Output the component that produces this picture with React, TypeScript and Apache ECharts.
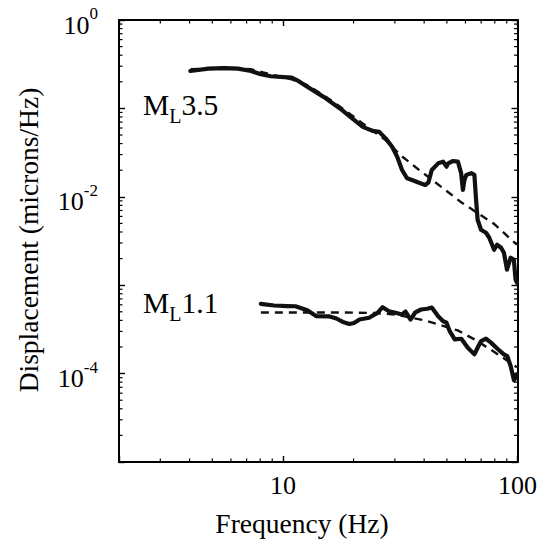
import React, { useEffect, useRef } from "react";
import * as echarts from "echarts";

// ---------- data ----------
const xMin = 2;
const xMax = 100;
const yMin = 1e-5;
const yMax = 1;
const xTickLabels = [10, 100];
const yLabelExponents = [0, -2, -4];
const xMinorTicks = [3, 4, 5, 6, 7, 8, 9, 20, 30, 40, 50, 60, 70, 80, 90];
const yMinorMantissas = [2, 3, 4, 5, 6, 7, 8, 9];
const yMinorDecades = [-5, -4, -3, -2, -1];

const ml35Freq = [4.03, 4.81, 5.65, 6.43, 7.31, 8.05, 8.87, 10.1, 10.9, 11.5, 12.6, 14.9, 17.5, 19.2, 21.9, 24.1, 25.7, 27.4, 29.2, 30.7, 32.2, 33.8, 35.5, 37.8, 40.4, 41.7, 43.1, 45.9, 48.2, 49.8, 50.6, 53.1, 55.7, 57.5, 58.5, 59.4, 60.5, 63.5, 65.5, 66.6, 67.6, 69.9, 73.4, 75.8, 79.5, 81.8, 85.1, 87.5, 90.2, 93.5, 96.5, 98.1, 99.4];
const ml35Amp = [0.265, 0.282, 0.286, 0.282, 0.265, 0.243, 0.231, 0.226, 0.223, 0.208, 0.178, 0.135, 0.0998, 0.0817, 0.0618, 0.0557, 0.0543, 0.0458, 0.0368, 0.0284, 0.0201, 0.0162, 0.0155, 0.0145, 0.0136, 0.0145, 0.0201, 0.0239, 0.025, 0.0219, 0.0239, 0.0254, 0.025, 0.0185, 0.012, 0.0155, 0.0177, 0.0185, 0.0177, 0.0092, 0.0055, 0.00424, 0.00392, 0.00344, 0.00252, 0.00287, 0.00265, 0.00233, 0.0015, 0.00205, 0.00194, 0.00116, 0.00107];

const ml35FitFreq = [4.04, 5.61, 7.29, 8.85, 10.9, 12.7, 14.9, 17.4, 21.8, 27.4, 31.7, 36.7, 46.7, 57.3, 65.5, 79.5, 99.4];
const ml35FitAmp = [0.277, 0.291, 0.277, 0.243, 0.213, 0.183, 0.141, 0.106, 0.0681, 0.0438, 0.0296, 0.0217, 0.0133, 0.00875, 0.00693, 0.00494, 0.00287];

const ml11Freq = [8.05, 9.16, 10.4, 11.3, 12.7, 13.9, 15.8, 16.9, 18.0, 19.2, 20.1, 21.2, 23.3, 25.3, 26.6, 28.3, 30.2, 32.2, 33.3, 35.0, 36.7, 38.8, 41.2, 43.1, 45.9, 48.2, 49.8, 51.4, 54.0, 57.6, 61.4, 65.5, 67.6, 69.9, 73.4, 77.1, 82.1, 87.5, 90.4, 93.5, 96.6, 98.2, 99.4];
const ml11Amp = [6.15e-4, 5.89e-4, 5.81e-4, 5.78e-4, 5.21e-4, 4.46e-4, 4.43e-4, 4.2e-4, 3.84e-4, 3.64e-4, 3.74e-4, 4.09e-4, 4.28e-4, 4.87e-4, 5.64e-4, 5.08e-4, 4.87e-4, 4.67e-4, 5.04e-4, 4.09e-4, 4.94e-4, 5.31e-4, 5.41e-4, 5.59e-4, 4.46e-4, 3.92e-4, 3.76e-4, 3.02e-4, 2.44e-4, 2.48e-4, 1.96e-4, 1.65e-4, 1.96e-4, 2.33e-4, 2.48e-4, 2.24e-4, 1.91e-4, 1.65e-4, 1.58e-4, 1.22e-4, 8.4e-5, 9.0e-5, 9.8e-5];

const ml11FitFreq = [8.05, 11.5, 18.6, 24.9, 30.2, 40.4, 55.6, 65.5, 76.5, 90.2, 99.4];
const ml11FitAmp = [4.91e-4, 4.91e-4, 4.91e-4, 4.84e-4, 4.65e-4, 3.99e-4, 3.08e-4, 2.44e-4, 1.88e-4, 1.41e-4, 1.18e-4];

const annotations = [
  { mag: "3.5", x: 143, y: 105 },
  { mag: "1.1", x: 143, y: 303 },
];

const xTitle = "Frequency (Hz)";
const yTitle = "Displacement (microns/Hz)";

// ---------- helpers ----------
const FONT = '"Liberation Serif", "Times New Roman", Times, serif';
const INK = "#111111";
const zip = (a: number[], b: number[]) => a.map((v, i) => [v, b[i]]);

const yMinorTicks: number[] = [];
yMinorDecades.forEach((d) => yMinorMantissas.forEach((m) => yMinorTicks.push(m * Math.pow(10, d))));

const MINOR_LEN = 3.5;

const renderXMinor = (params: any, api: any) => {
  const cs = params.coordSys;
  const p = api.coord([api.value(0), 1e-3]);
  const bottom = cs.y + cs.height;
  const top = cs.y;
  const st = { stroke: "#000", lineWidth: 1.2 };
  return {
    type: "group",
    children: [
      { type: "line", shape: { x1: p[0], y1: bottom, x2: p[0], y2: bottom - MINOR_LEN }, style: st },
      { type: "line", shape: { x1: p[0], y1: top, x2: p[0], y2: top + MINOR_LEN }, style: st },
    ],
  };
};

const renderYMinor = (params: any, api: any) => {
  const cs = params.coordSys;
  const p = api.coord([10, api.value(1)]);
  const left = cs.x;
  const right = cs.x + cs.width;
  const st = { stroke: "#000", lineWidth: 1.2 };
  return {
    type: "group",
    children: [
      { type: "line", shape: { x1: left, y1: p[1], x2: left + MINOR_LEN, y2: p[1] }, style: st },
      { type: "line", shape: { x1: right, y1: p[1], x2: right - MINOR_LEN, y2: p[1] }, style: st },
    ],
  };
};

export default function App() {
  const ref = useRef<HTMLDivElement>(null);

  useEffect(() => {
    document.body.style.margin = "0";
    if (!ref.current) return;
    const chart = echarts.init(ref.current, undefined, { renderer: "svg" });

    const axisLine = { show: true, onZero: false, lineStyle: { color: "#000", width: 2 } };
    const axisTick = { show: true, inside: true, length: 6, lineStyle: { color: "#000", width: 1.4 } };

    const xBase = {
      type: "log",
      logBase: 10,
      min: xMin,
      max: xMax,
      axisLine,
      axisTick,
      splitLine: { show: false },
      minorTick: { show: false },
    };
    const yBase = {
      type: "log",
      logBase: 10,
      min: yMin,
      max: yMax,
      axisLine,
      axisTick,
      splitLine: { show: false },
      minorTick: { show: false },
    };

    const option: any = {
      animation: false,
      backgroundColor: "#ffffff",
      grid: { left: 119, right: 16, top: 20, bottom: 80, containLabel: false },
      xAxis: [
        {
          ...xBase,
          position: "bottom",
          axisLabel: {
            show: true,
            margin: 10,
            color: "#000",
            fontFamily: FONT,
            fontSize: 26,
            showMinLabel: true,
            showMaxLabel: true,
            formatter: (v: number) => {
              const r = Math.round(v);
              return xTickLabels.includes(r) && Math.abs(v - r) < 1e-6 ? String(r) : "";
            },
          },
        },
        { ...xBase, position: "top", axisLabel: { show: false } },
      ],
      yAxis: [
        {
          ...yBase,
          position: "left",
          axisLabel: {
            show: true,
            margin: 21,
            color: "#000",
            fontFamily: FONT,
            showMinLabel: true,
            showMaxLabel: true,
            formatter: (v: number) => {
              const e = Math.round(Math.log10(v));
              return yLabelExponents.includes(e) ? `{b|10}{s|${e}}` : "";
            },
            rich: {
              b: { fontSize: 26, fontFamily: FONT, color: "#000", padding: [10, 0, 0, 0] },
              s: { fontSize: 17, fontFamily: FONT, color: "#000", padding: [0, 0, 13, 0] },
            },
          },
        },
        { ...yBase, position: "right", axisLabel: { show: false } },
      ],
      series: [
        {
          type: "line",
          name: "ML3.5 fit",
          data: zip(ml35FitFreq, ml35FitAmp),
          showSymbol: false,
          symbol: "none",
          lineStyle: { color: INK, width: 2.4, type: [8, 6], cap: "butt" },
          z: 3,
        },
        {
          type: "line",
          name: "ML3.5",
          data: zip(ml35Freq, ml35Amp),
          showSymbol: false,
          symbol: "none",
          lineStyle: { color: INK, width: 4.2, cap: "round", join: "round" },
          z: 2,
        },
        {
          type: "line",
          name: "ML1.1 fit",
          data: zip(ml11FitFreq, ml11FitAmp),
          showSymbol: false,
          symbol: "none",
          lineStyle: { color: INK, width: 2.4, type: [8, 6], cap: "butt" },
          z: 3,
        },
        {
          type: "line",
          name: "ML1.1",
          data: zip(ml11Freq, ml11Amp),
          showSymbol: false,
          symbol: "none",
          lineStyle: { color: INK, width: 4.2, cap: "round", join: "round" },
          z: 2,
        },
        {
          type: "custom",
          name: "xMinor",
          silent: true,
          clip: false,
          renderItem: renderXMinor,
          data: xMinorTicks.map((v) => [v, 1e-3]),
          z: 5,
        },
        {
          type: "custom",
          name: "yMinor",
          silent: true,
          clip: false,
          renderItem: renderYMinor,
          data: yMinorTicks.map((v) => [10, v]),
          z: 5,
        },
      ],
      graphic: [
        {
          type: "text",
          x: 302,
          y: 523,
          style: { text: xTitle, font: `27.5px ${FONT}`, fill: "#000", align: "center", verticalAlign: "middle" },
        },
        {
          type: "text",
          x: 28,
          y: 240,
          rotation: Math.PI / 2,
          style: { text: yTitle, font: `27.5px ${FONT}`, fill: "#000", align: "center", verticalAlign: "middle" },
        },
        ...annotations.map((a) => ({
          type: "text",
          x: a.x,
          y: a.y,
          style: {
            text: `{m|M}{l|L}{m|${a.mag}}`,
            align: "left",
            verticalAlign: "middle",
            fill: "#000",
            rich: {
              m: { fontSize: 29.5, fontFamily: FONT, fill: "#000" },
              l: { fontSize: 20, fontFamily: FONT, fill: "#000", padding: [22, 0, 0, 0] },
            },
          },
        })),
      ],
    };

    chart.setOption(option);
    return () => chart.dispose();
  }, []);

  return (
    <div
      ref={ref}
      style={{ width: 540, height: 542, position: "fixed", left: 0, top: 0, background: "#fff" }}
    />
  );
}
